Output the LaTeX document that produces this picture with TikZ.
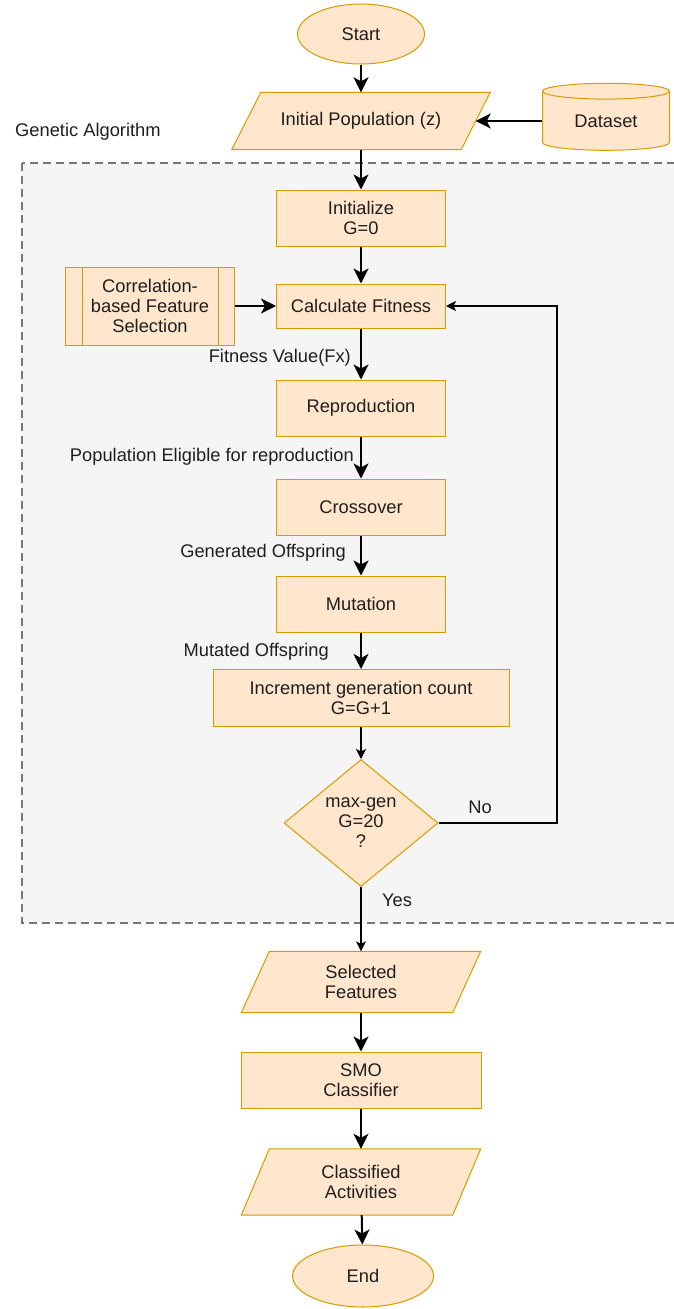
\documentclass[tikz,border=0pt]{standalone}
\usepackage{fontspec}
\setmainfont{Liberation Sans}
\usetikzlibrary{shapes.geometric,arrows.meta,calc,backgrounds}
\definecolor{boxfill}{HTML}{FFE6CC}
\definecolor{boxdraw}{HTML}{D79B00}
\definecolor{groupfill}{HTML}{F5F5F5}
\definecolor{groupdraw}{HTML}{777777}
% parallelogram behind an input/output node: node name, half slant
\newcommand{\slantbox}[2]{%
    \draw[block] ($(#1.north west)+(#2,0)$) -- ($(#1.north east)+(#2,0)$)
        -- ($(#1.south east)+(-#2,0)$) -- ($(#1.south west)+(-#2,0)$) -- cycle;}

\begin{document}
\begin{tikzpicture}[x=1pt, y=-1pt,
    every node/.style={font=\fontsize{18.3}{20}\selectfont, text=black!88, align=center},
    block/.style={draw=boxdraw, fill=boxfill, line width=1pt, inner sep=0pt},
    process/.style={block, rectangle, minimum width=169, minimum height=56},
    terminal/.style={block, ellipse},
    inout/.style={rectangle, inner sep=0pt, minimum width=211, minimum height=61},
    decision/.style={block, diamond, minimum width=154, minimum height=127},
    dbase/.style={block, cylinder, shape border rotate=90, aspect=0.25,
        minimum width=127, minimum height=67},
    flow/.style={-{Stealth[length=15pt, width=15pt, inset=4pt]}, line width=2pt},
    thinflow/.style={-{Stealth[length=10pt, width=10pt, inset=2.5pt]}, line width=1.2pt},
    note/.style={inner sep=1pt}
]
    \useasboundingbox (0,0) rectangle (673,1309);
    % group of the genetic algorithm
    \draw[fill=groupfill, draw=groupdraw, line width=2pt, dash pattern=on 8pt off 5pt]
        (22,163) rectangle (700,923);
    \node[note, anchor=west] (galabel) at (14,132) {Genetic Algorithm};

    \node[terminal, minimum width=127, minimum height=60] (start) at (361,34) {Start};
    \node[inout, minimum width=229, minimum height=57] (initpop) at (361,121) {Initial Population (z)};
    \node[dbase] (data) at (606,121) {Dataset};
    \node[process] (init) at (361,218) {Initialize\\G=0};
    \node[process, minimum height=78] (cfs) at (150,306) {Correlation-\\based Feature\\Selection};
    \draw[boxdraw, line width=1pt] ($(cfs.north west)+(17,0)$) -- ($(cfs.south west)+(17,0)$);
    \draw[boxdraw, line width=1pt] ($(cfs.north east)+(-17,0)$) -- ($(cfs.south east)+(-17,0)$);
    \node[process, minimum height=44] (fit) at (361,306) {Calculate Fitness};
    \node[process] (repro) at (361,408) {Reproduction};
    \node[process] (cross) at (361,507) {Crossover};
    \node[process] (mut) at (361,604) {Mutation};
    \node[process, minimum width=296, minimum height=57] (incr) at (361,698)
        {Increment generation count\\G=G+1};
    \node[decision] (check) at (361,823) {max-gen\\G=20\\?};
    \node[inout] (sel) at (361,982) {Selected\\Features};
    \node[process, minimum width=240] (smo) at (361,1080) {SMO\\Classifier};
    \node[inout, minimum height=66] (cls) at (361,1182) {Classified\\Activities};
    \node[terminal, minimum width=141, minimum height=62] (end) at (363,1276) {End};
    \begin{scope}[on background layer]
        \slantbox{initpop}{14.5}
        \slantbox{sel}{14}
        \slantbox{cls}{14}
    \end{scope}

    % edge labels
    \node[note, anchor=east] (fxlabel) at (352,358) {Fitness Value(Fx)};
    \node[note, anchor=east] (eliglabel) at (355,457) {Population Eligible for reproduction};
    \node[note, anchor=east] (offlabel) at (347,553) {Generated Offspring};
    \node[note, anchor=east] (mutlabel) at (330,652) {Mutated Offspring};
    \node[note] (nolabel) at (480,807) {No};
    \node[note] (yeslabel) at (397,900) {Yes};

    % connectors
    \draw[flow] (start) -- (initpop);
    \draw[flow] (data.west) -- (initpop.east);
    \draw[flow] (initpop) -- (init);
    \draw[flow] (init) -- (fit);
    \draw[flow] (cfs) -- (fit);
    \draw[flow] (fit) -- (repro);
    \draw[flow] (repro) -- (cross);
    \draw[flow] (cross) -- (mut);
    \draw[flow] (mut) -- (incr);
    \draw[thinflow] (incr) -- (check);
    \coordinate (loop) at (557,823);
    \draw[thinflow] (check.east) -- (loop) |- (fit.east);
    \draw[thinflow] (check.south) -- (sel.north);
    \draw[flow] (sel) -- (smo);
    \draw[flow] (smo) -- (cls);
    \draw[flow] (cls) -- (end);
\end{tikzpicture}
\end{document}
